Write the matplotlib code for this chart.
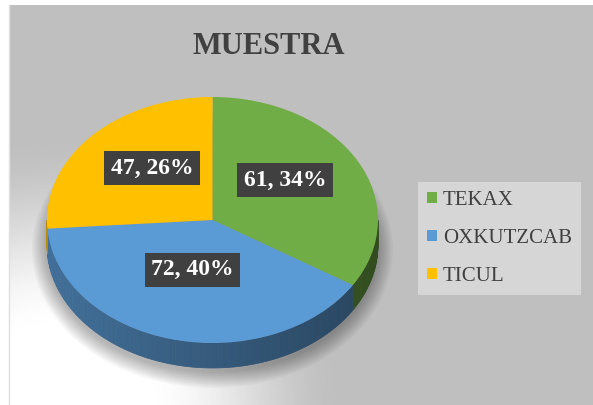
import os
import numpy as np
import matplotlib
matplotlib.use("Agg")
import matplotlib.pyplot as plt
from matplotlib.patches import Patch, Polygon, Ellipse, Circle, Rectangle
from matplotlib.font_manager import FontProperties

# data
categories = ["TEKAX", "OXKUTZCAB", "TICUL"]
values = [61, 72, 47]
colors = ["#70ad47", "#5b9bd5", "#ffc000"]
title = "MUESTRA"

font_dir = "/usr/share/fonts/truetype/liberation"
bold_path = os.path.join(font_dir, "LiberationSerif-Bold.ttf")
reg_path = os.path.join(font_dir, "LiberationSerif-Regular.ttf")
if os.path.exists(bold_path):
    serif_bold = FontProperties(fname=bold_path)
    serif_reg = FontProperties(fname=reg_path)
else:
    serif_bold = FontProperties(family="Liberation Serif", weight="bold")
    serif_reg = FontProperties(family="Liberation Serif")

W, H = 593, 405
fig = plt.figure(figsize=(W / 100, H / 100), dpi=100, facecolor="white")

# background in pixel coordinates: gray with a white glow in the lower left
bg_ax = fig.add_axes([0, 0, 1, 1])
bg_ax.set_xlim(0, W)
bg_ax.set_ylim(H, 0)
bg_ax.axis("off")
frame = Rectangle((9, 5), W - 9, H - 5, facecolor="#bfbfbf", edgecolor="none")
bg_ax.add_patch(frame)
bg_ax.plot([8.5, 8.5], [5, H], color="#e0e0e0", linewidth=1)
for r in np.linspace(290, 90, 60):
    t = (r - 90) / 200
    t = t * t * (3 - 2 * t)
    g = (1 - t) * 1.0 + t * (191 / 255)
    c = Circle((60, 420), r, facecolor=(g, g, g), edgecolor="none")
    bg_ax.add_patch(c)
    c.set_clip_path(frame)

ax = fig.add_axes([0, 0, 1, 1])
ax.patch.set_visible(False)

# pixel geometry of the tilted pie (top face ellipse)
cx, cy = 212.5, 220.0
sx, sy = 165.5, 123.0
depth = 25.0 / sy

xlim = (-cx / sx, (W - cx) / sx)
ylim = (-(H - cy) / sy, cy / sy)

# soft shadow under the pie
for k in range(10):
    e = 0.01 * k
    ax.add_patch(Ellipse((0.0, -depth - 0.04), 2 * (1 + e), 2 * (1 + e * sx / sy),
                         facecolor="black", edgecolor="none", alpha=0.03, zorder=1))

# top face
wedges, _ = ax.pie(values, colors=colors, startangle=90, counterclock=False,
                   wedgeprops=dict(linewidth=0, edgecolor="none"))
for w in wedges:
    w.set_zorder(4)

# side of the pie (front half only)
for w, c in zip(wedges, colors):
    a1, a2 = sorted([w.theta1, w.theta2])
    base = np.array(matplotlib.colors.to_rgb(c))
    for shift in (-360, 0, 360):
        lo, hi = max(a1 + shift, -180), min(a2 + shift, 0)
        if hi <= lo:
            continue
        steps = np.linspace(lo, hi, max(2, int(hi - lo) + 1))
        for s0, s1 in zip(steps[:-1], steps[1:]):
            tt = np.radians(np.array([s0, s1]))
            xs, ys = np.cos(tt), np.sin(tt)
            poly = np.array([[xs[0], ys[0]], [xs[1], ys[1]],
                             [xs[1], ys[1] - depth], [xs[0], ys[0] - depth]])
            mid = np.radians((s0 + s1) / 2)
            f = 0.58 - 0.14 * np.cos(mid)
            ax.add_patch(Polygon(poly, closed=True, facecolor=base * f,
                                 edgecolor=base * f, linewidth=0.5, zorder=3))

ax.set_aspect("auto")
ax.set_xlim(*xlim)
ax.set_ylim(*ylim)
ax.axis("off")

# data labels
total = sum(values)
for w, v in zip(wedges, values):
    mid = np.radians((w.theta1 + w.theta2) / 2)
    lx = 0.5 * np.cos(mid)
    ly = 0.5 * np.sin(mid) + 0.08
    ax.text(lx, ly, f"{v}, {round(100 * v / total)}%", ha="center", va="center",
            fontproperties=serif_bold, fontsize=17, color="white", zorder=6,
            bbox=dict(boxstyle="square,pad=0.28", facecolor="#404040", edgecolor="none"))

fig.text(269 / W, 1 - 46 / H, title, ha="center", va="center",
         fontproperties=serif_bold, fontsize=22, color="#404040")

legend_font = serif_reg.copy()
legend_font.set_size(15)
handles = [Patch(facecolor=c, edgecolor="none") for c in colors]
leg = fig.legend(handles, categories, loc="lower left",
                 bbox_to_anchor=(418 / W, (H - 295) / H), borderaxespad=0,
                 prop=legend_font,
                 handlelength=0.45, handleheight=0.45, handletextpad=0.3,
                 labelspacing=0.9, borderpad=0.45, frameon=True, fancybox=False)
leg.get_frame().set_facecolor("#d6d6d6")
leg.get_frame().set_edgecolor("none")
leg.get_frame().set_alpha(1)
for txt in leg.get_texts():
    txt.set_color("#404040")

fig.savefig("out.png", dpi=100, facecolor="white")
